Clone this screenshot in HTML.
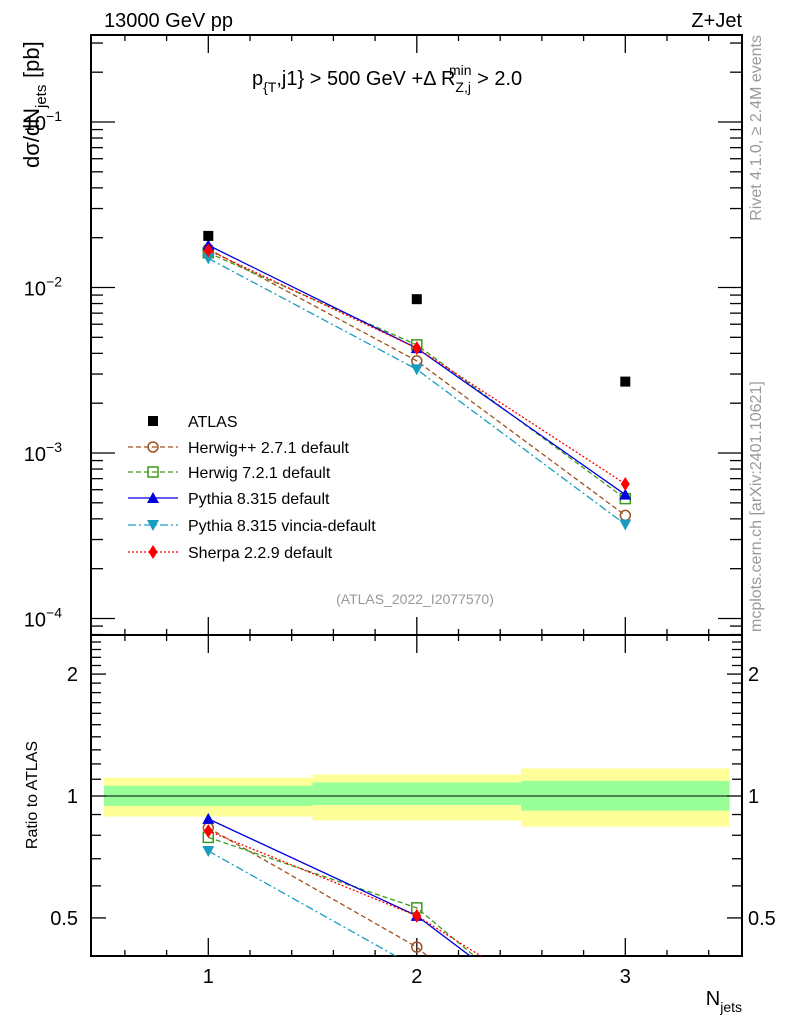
<!DOCTYPE html>
<html><head><meta charset="utf-8"><style>
html,body{margin:0;padding:0;background:#fff;overflow:hidden;width:786px;height:1024px;}
svg{font-family:"Liberation Sans",Arial,sans-serif;display:block;}
</style></head><body>
<svg id="c" width="786" height="1024" xmlns="http://www.w3.org/2000/svg"></svg>
<script>
const categories=[1,2,3];
const atlas=[0.0205,0.0085,0.0027];
const herwigpp=[0.0171,0.0036,0.00042];
const herwig7=[0.0162,0.0045,0.00053];
const pythia=[0.0180,0.0043,0.00056];
const vincia=[0.0150,0.0032,0.00037];
const sherpa=[0.0168,0.0043,0.00065];
const bandInnerLo=[0.945,0.95,0.92];
const bandInnerHi=[1.06,1.08,1.09];
const bandOuterLo=[0.89,0.87,0.84];
const bandOuterHi=[1.11,1.13,1.17];
const mainTicks=[-1,-2,-3,-4];
const ratioTicks=[0.5,1,2];

const NS="http://www.w3.org/2000/svg";
const svg=document.getElementById('c');
function mk(t,a,p){const e=document.createElementNS(NS,t);for(const k in a)e.setAttribute(k,a[k]);(p||svg).appendChild(e);return e;}
const L=91,R=742,T=35,MB=635,RB=956;
const X=v=>208.3+(v-1)*208.5;
const Ym=v=>122-(Math.log10(v)+1)*165.5;
const Yr=v=>796-Math.log10(v)*405;

const defs=mk('defs',{});
const c1=mk('clipPath',{id:'cm'},defs);mk('rect',{x:L,y:T,width:R-L,height:MB-T},c1);
const c2=mk('clipPath',{id:'cr'},defs);mk('rect',{x:L,y:MB,width:R-L,height:RB-MB},c2);

const gB=mk('g',{'clip-path':'url(#cr)'});

categories.forEach((c,i)=>{
  let r=mk('rect',{x:X(c-0.5),y:Yr(bandOuterHi[i]),width:X(c+0.5)-X(c-0.5),height:Yr(bandOuterLo[i])-Yr(bandOuterHi[i]),fill:'#ffff99'},gB);
  
  r=mk('rect',{x:X(c-0.5),y:Yr(bandInnerHi[i]),width:X(c+0.5)-X(c-0.5),height:Yr(bandInnerLo[i])-Yr(bandInnerHi[i]),fill:'#99ff99'},gB);
  
});
mk('line',{x1:L,x2:R,y1:Yr(1),y2:Yr(1),stroke:'#000','stroke-width':1});

let f=mk('rect',{x:L,y:T,width:R-L,height:MB-T,fill:'none',stroke:'#000','stroke-width':2});

f=mk('rect',{x:L,y:MB,width:R-L,height:RB-MB,fill:'none',stroke:'#000','stroke-width':2});


[[T,1],[MB,-1],[MB,1],[RB,-1]].forEach(([y,d])=>{
  for(let v=0.5;v<=3.51;v+=0.1){
    const big=Math.abs(v-Math.round(v))<0.01;
    const len=big?18:(Math.abs(v*2-Math.round(v*2))<0.01?8:6);
    if(!big && Math.abs(v*5-Math.round(v*5))>0.01) continue;
    mk('line',{x1:X(v),x2:X(v),y1:y,y2:y+d*len,stroke:'#000','stroke-width':1.3});
  }
});
categories.forEach(c=>{const t=mk('text',{x:X(c),y:983,'font-size':20,'text-anchor':'middle'});t.textContent=c;
});

for(let e=-5;e<=0;e++)for(let m=1;m<10;m++){const v=m*Math.pow(10,e);const y=Ym(v);if(y<T||y>MB)continue;
  const len=m==1?24:12;
  mk('line',{x1:L,x2:L+len,y1:y,y2:y,stroke:'#000','stroke-width':1.3});
  mk('line',{x1:R,x2:R-len,y1:y,y2:y,stroke:'#000','stroke-width':1.3});}
mainTicks.forEach(e=>{const t=mk('text',{x:62,y:Ym(Math.pow(10,e))+8,'font-size':20,'text-anchor':'end'});
t.innerHTML='10<tspan dy="-9" font-size="14">−'+(-e)+'</tspan>';
});

[0.5,0.6,0.7,0.8,0.9,1,1.1,1.2,1.3,1.4,1.5,1.6,1.7,1.8,1.9,2,2.1,2.2,2.3,2.4,2.5].forEach(v=>{const y=Yr(v);if(y<MB||y>RB)return;
  const len=ratioTicks.includes(v)?15:10;
  mk('line',{x1:L,x2:L+len,y1:y,y2:y,stroke:'#000','stroke-width':1.3});
  mk('line',{x1:R,x2:R-len,y1:y,y2:y,stroke:'#000','stroke-width':1.3});});
ratioTicks.forEach(v=>{[[78,'end'],[748,'start']].forEach(([x,a])=>{const t=mk('text',{x:x,y:Yr(v)+7,'font-size':20,'text-anchor':a});t.textContent=v;
});});

const series=[
 {n:'herwigpp',d:herwigpp,c:'#a0521e',dash:'5,3',m:'circle'},
 {n:'herwig7',d:herwig7,c:'#3a9a1a',dash:'5,3',m:'square'},
 {n:'pythia',d:pythia,c:'#0000e0',dash:'',m:'tri'},
 {n:'vincia',d:vincia,c:'#1a9cc0',dash:'8,3,2,3',m:'itri'},
 {n:'sherpa',d:sherpa,c:'#ff0000',dash:'2,2',m:'diamond'}];
function marker(g,m,x,y,c){
  let e;
  if(m=='circle')e=mk('circle',{cx:x,cy:y,r:5,fill:'none',stroke:c,'stroke-width':1.5},g);
  else if(m=='square')e=mk('rect',{x:x-5,y:y-5,width:10,height:10,fill:'none',stroke:c,'stroke-width':1.5},g);
  else if(m=='tri')e=mk('polygon',{points:`${x},${y-6} ${x-6},${y+5} ${x+6},${y+5}`,fill:c},g);
  else if(m=='itri')e=mk('polygon',{points:`${x},${y+6} ${x-6},${y-5} ${x+6},${y-5}`,fill:c},g);
  else if(m=='diamond')e=mk('polygon',{points:`${x},${y-7} ${x-4.5},${y} ${x},${y+7} ${x+4.5},${y}`,fill:c},g);
  else e=mk('rect',{x:x-5,y:y-5,width:10,height:10,fill:c},g);
  
}
series.forEach(s=>{
  const g=mk('g',{'clip-path':'url(#cm)'});
  mk('polyline',{points:categories.map((c,i)=>X(c)+','+Ym(s.d[i])).join(' '),fill:'none',stroke:s.c,'stroke-width':1.3,'stroke-dasharray':s.dash},g);
  categories.forEach((c,i)=>marker(g,s.m,X(c),Ym(s.d[i]),s.c));
  const gr=mk('g',{'clip-path':'url(#cr)'});
  mk('polyline',{points:categories.map((c,i)=>X(c)+','+Yr(s.d[i]/atlas[i])).join(' '),fill:'none',stroke:s.c,'stroke-width':1.3,'stroke-dasharray':s.dash},gr);
  categories.forEach((c,i)=>marker(gr,s.m,X(c),Yr(s.d[i]/atlas[i]),s.c));
});
const ga=mk('g',{});
categories.forEach((c,i)=>marker(ga,'fsq',X(c),Ym(atlas[i]),'#000'));

const leg=[['ATLAS','#000','','fsq'],['Herwig++ 2.7.1 default','#a0521e','5,3','circle'],['Herwig 7.2.1 default','#3a9a1a','5,3','square'],
['Pythia 8.315 default','#0000e0','','tri'],['Pythia 8.315 vincia-default','#1a9cc0','8,3,2,3','itri'],['Sherpa 2.2.9 default','#ff0000','2,2','diamond']];
const ly=[421,447,472,498,525,552];
leg.forEach((l,i)=>{const g=mk('g',{});
  if(i>0)mk('line',{x1:128,x2:178,y1:ly[i],y2:ly[i],stroke:l[1],'stroke-width':1.3,'stroke-dasharray':l[2]},g);
  marker(g,l[3],153,ly[i],l[1]);
  const t=mk('text',{x:188,y:ly[i]+6,'font-size':16},g);t.textContent=l[0];});

function txt(s,a,name,html,p){const t=mk('text',a,p);if(html)t.innerHTML=s;else t.textContent=s;return t;}
txt('13000 GeV pp',{x:104,y:27,'font-size':20},'energy-label');
txt('Z+Jet',{x:742,y:27,'font-size':20,'text-anchor':'end'},'process-label');
txt('p<tspan dy="7" font-size="14">{T</tspan><tspan dy="-7">,j1} &gt; 500 GeV +Δ R</tspan><tspan dy="7" font-size="14">Z,j</tspan><tspan dy="-17" dx="-22" font-size="14">min</tspan><tspan dy="10"> &gt; 2.0</tspan>',{x:252,y:85,'font-size':20},'plot-title',true);
txt('(ATLAS_2022_I2077570)',{x:415,y:604,'font-size':14,fill:'#999','text-anchor':'middle'},'analysis-id');
const yt=mk('g',{transform:'translate(39,168) rotate(-90)'});

txt('dσ/dN',{x:0,y:0,'font-size':22},'y-title-main',false,yt);
txt('jets',{x:60,y:7,'font-size':15},'y-title-subscript',false,yt);
txt('[pb]',{x:90,y:0,'font-size':22},'y-title-unit',false,yt);
txt('Ratio to ATLAS',{x:0,y:0,'font-size':16,transform:'translate(37,795) rotate(-90)','text-anchor':'middle'},'ratio-axis-title');
txt('N<tspan dy="7" font-size="14">jets</tspan>',{x:742,y:1005,'font-size':20,'text-anchor':'end'},'x-axis-title',true);
txt('Rivet 4.1.0, ≥ 2.4M events',{x:0,y:0,'font-size':16,fill:'#999',transform:'translate(761,35) rotate(-90)','text-anchor':'end'},'rivet-label');
txt('mcplots.cern.ch [arXiv:2401.10621]',{x:0,y:0,'font-size':16,fill:'#999',transform:'translate(761,632) rotate(-90)','text-anchor':'start'},'mcplots-label');
</script>
</body></html>
